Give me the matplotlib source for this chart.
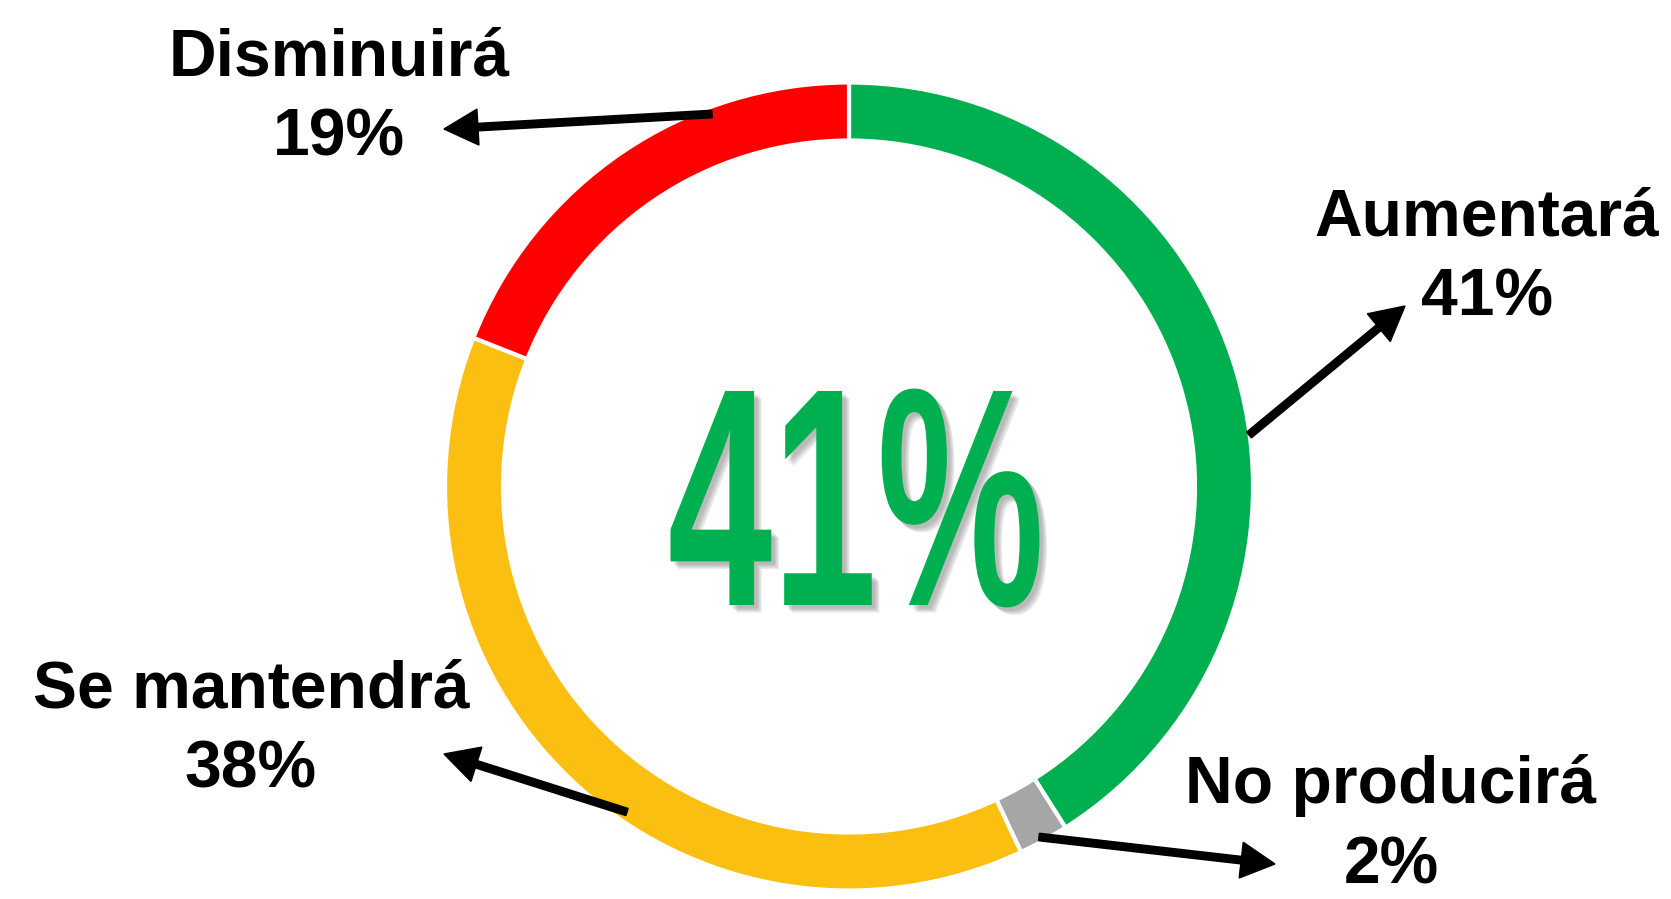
import matplotlib
matplotlib.use('Agg')
import matplotlib.pyplot as plt
from matplotlib.colors import to_rgba
from matplotlib.patheffects import AbstractPathEffect
from matplotlib.transforms import Affine2D

# data
categories = ['Aumentará', 'No producirá', 'Se mantendrá', 'Disminuirá']
values = [41, 2, 38, 19]
colors = ['#00B050', '#A6A6A6', '#FBBF12', '#FF0000']
highlight = 0  # category shown in the middle

W, H = 1671, 899
center = (849, 412.5)
r_out = 404
ring_w = 58

# label layout: (x center, baseline of first line), second line is 80 px lower
label_pos = {
    'Aumentará': (1487, 663),
    'No producirá': (1391, 96),
    'Se mantendrá': (251, 192),
    'Disminuirá': (339, 824),
}
# arrows: start on the ring -> tip near the label
arrow_pos = {
    'Aumentará': ((1249, 464), (1405, 593)),
    'No producirá': ((1039, 62), (1275, 35)),
    'Se mantendrá': ((627, 87), (444, 145)),
    'Disminuirá': ((712, 785), (444, 770)),
}


class Squeeze(AbstractPathEffect):
    """Draw text path squeezed horizontally around its anchor (condensed look)."""
    def __init__(self, sx, ax, x0, offset=(0, 0), color=None, alpha=None):
        super().__init__(offset)
        self.sx, self.ax, self.x0 = sx, ax, x0
        self.color, self.alpha = color, alpha

    def draw_path(self, renderer, gc, tpath, affine, rgbFace=None):
        cx = self.ax.transData.transform((self.x0, 0))[0]
        t = (affine + Affine2D().translate(-cx, 0).scale(self.sx, 1).translate(cx, 0)
             + self._offset_transform(renderer))
        gc0 = renderer.new_gc()
        gc0.copy_properties(gc)
        if self.color is not None:
            rgbFace = to_rgba(self.color)
            gc0.set_foreground(rgbFace)
        if self.alpha is not None:
            gc0.set_alpha(self.alpha)
        renderer.draw_path(gc0, tpath, t, rgbFace)
        gc0.restore()


fig = plt.figure(figsize=(W / 100, H / 100), dpi=100)
ax = fig.add_axes([0, 0, 1, 1])
ax.pie(values, colors=colors, startangle=90, counterclock=False,
       radius=r_out, center=center,
       wedgeprops=dict(width=ring_w, edgecolor='white', linewidth=3))
ax.set_xlim(0, W)
ax.set_ylim(0, H)
ax.set_aspect('equal')
ax.axis('off')

for cat, val in zip(categories, values):
    x, y = label_pos[cat]
    ax.text(x, y, cat, ha='center', va='baseline', fontsize=47.5,
            fontweight='bold', family='Liberation Sans', color='black')
    ax.text(x, y - 80, f'{val}%', ha='center', va='baseline', fontsize=47.5,
            fontweight='bold', family='Liberation Sans', color='black')
    (x0, y0), (x1, y1) = arrow_pos[cat]
    ax.arrow(x0, y0, x1 - x0, y1 - y0, width=7.5, head_width=36, head_length=34,
             length_includes_head=True, color='black', zorder=5)

# big number in the middle, with a soft drop shadow
cx_text = 856
sx = 0.605
big = ax.text(cx_text, 294, f'{values[highlight]}%', ha='center', va='baseline',
              fontsize=224, fontweight='bold', family='Liberation Sans',
              color=colors[highlight])
shadow = [Squeeze(sx, ax, cx_text, offset=(d, -d), color='#606060', alpha=0.13)
          for d in (2.5, 3.5, 4.5, 5.5)]
big.set_path_effects(shadow + [Squeeze(sx, ax, cx_text)])

fig.savefig('out.png', dpi=100)
